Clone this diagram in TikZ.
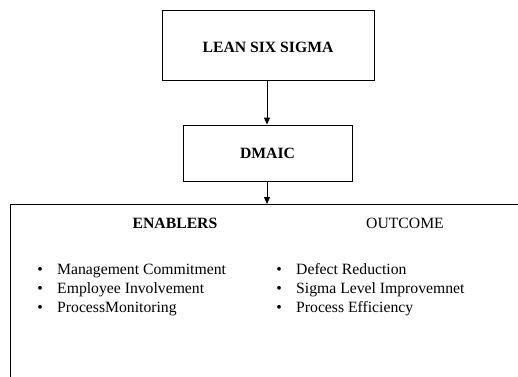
\documentclass[tikz,border=0pt]{standalone}
\usepackage{fontspec}
\setmainfont{Liberation Serif}
\usetikzlibrary{arrows.meta}
\begin{document}
\begin{tikzpicture}[x=1pt,y=-1pt,
  every node/.style={font=\fontsize{15.7}{19}\selectfont, inner sep=0pt},
  box/.style={draw, line width=0.9pt, fill=white},
  arr/.style={line width=0.9pt, -{Triangle[width=6pt,length=7pt]}},
  item/.style={anchor=base west},
  dot/.style={anchor=base}]
\useasboundingbox (0,0) rectangle (518,376);
\clip (0,0) rectangle (518,376);
\node[box, minimum width=212pt, minimum height=70pt] (lss) at (268,45) {};
\node[anchor=base, font=\fontsize{15.7}{19}\selectfont\bfseries] (lsst) at (268,52) {LEAN SIX SIGMA};
\node[box, minimum width=169pt, minimum height=56pt] (dm) at (267.5,153) {};
\node[anchor=base, font=\fontsize{15.7}{19}\selectfont\bfseries] (dmt) at (267.5,158) {DMAIC};
\node[box, minimum width=520pt, minimum height=190pt, anchor=north west] (big) at (10,204) {};
\draw[arr] (lss.south -| 267,0) -- (dm.north -| 267,0);
\coordinate (bt) at (267,204);
\draw[arr] (dm.south -| bt) -- (bt);
\node[anchor=base, font=\fontsize{15.7}{19}\selectfont\bfseries] (en) at (175,228) {ENABLERS};
\node[anchor=base] (out) at (405,228) {OUTCOME};
\foreach \y/\t [count=\i] in {274/Management Commitment, 293/Employee Involvement, 312/ProcessMonitoring} {
  \node[dot] (ld\i) at (40,\y) {•};
  \node[item] (l\i) at (57,\y) {\t};
}
\foreach \y/\t [count=\i] in {274/Defect Reduction, 293/Sigma Level Improvemnet, 312/Process Efficiency} {
  \node[dot] (rd\i) at (279,\y) {•};
  \node[item] (r\i) at (296,\y) {\t};
}
\end{tikzpicture}
\end{document}
